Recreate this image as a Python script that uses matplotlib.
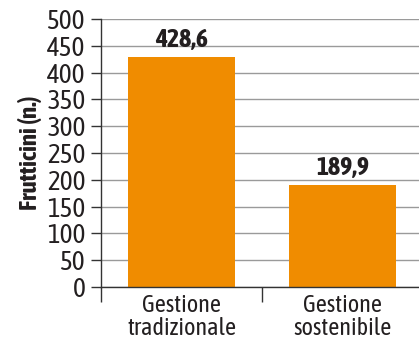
import matplotlib
matplotlib.use("Agg")
import matplotlib.pyplot as plt

plt.rcParams["font.family"] = ["Asap Condensed", "DejaVu Sans"]

# fruitlet counts per management type
categories = ["Gestione\ntradizionale", "Gestione\nsostenibile"]
values = [428.6, 189.9]
value_labels = ["428,6", "189,9"]
y_ticks = list(range(0, 501, 50))

BAR_COLOR = "#F08C00"
TEXT_COLOR = "#231F20"
GRID_COLOR = "#9A9A9A"

fig = plt.figure(figsize=(4.19, 3.44), dpi=100)
ax = fig.add_axes([101 / 419, 57 / 344, 322 / 419, 268 / 344])

x = range(len(categories))
ax.bar(x, values, width=0.665, color=BAR_COLOR, zorder=2)
for xi, v, lab in zip(x, values, value_labels):
    ax.annotate(lab, (xi, v), xytext=(0, 4), textcoords="offset points",
                ha="center", va="bottom", fontsize=18.5, fontweight="bold",
                color=TEXT_COLOR)

ax.set_xlim(-0.5, 1.5)
ax.set_ylim(0, 500)
ax.set_yticks(y_ticks)
ax.set_yticklabels([str(t) for t in y_ticks])
ax.yaxis.grid(True, color=GRID_COLOR, linewidth=1.0, zorder=0)
ax.set_axisbelow(True)

ax.set_xticks(list(x))
ax.set_xticklabels(categories, linespacing=1.0)
ax.set_xticks([-0.5, 0.5], minor=True)
ax.tick_params(axis="x", which="major", length=0, pad=5, labelsize=17.5,
               colors=TEXT_COLOR)
ax.tick_params(axis="x", which="minor", length=11, width=1.0, color="#333333")
ax.tick_params(axis="y", length=7.5, width=1.0, pad=3.5, labelsize=19.5,
               colors=TEXT_COLOR, color="#333333")

for side in ("top", "right"):
    ax.spines[side].set_visible(False)
for side in ("left", "bottom"):
    ax.spines[side].set_color("#333333")
    ax.spines[side].set_linewidth(1.0)

ax.set_ylabel("Frutticini (n.)", fontsize=18, fontweight="bold",
              color=TEXT_COLOR, labelpad=4)

fig.savefig("out.png", dpi=100)
